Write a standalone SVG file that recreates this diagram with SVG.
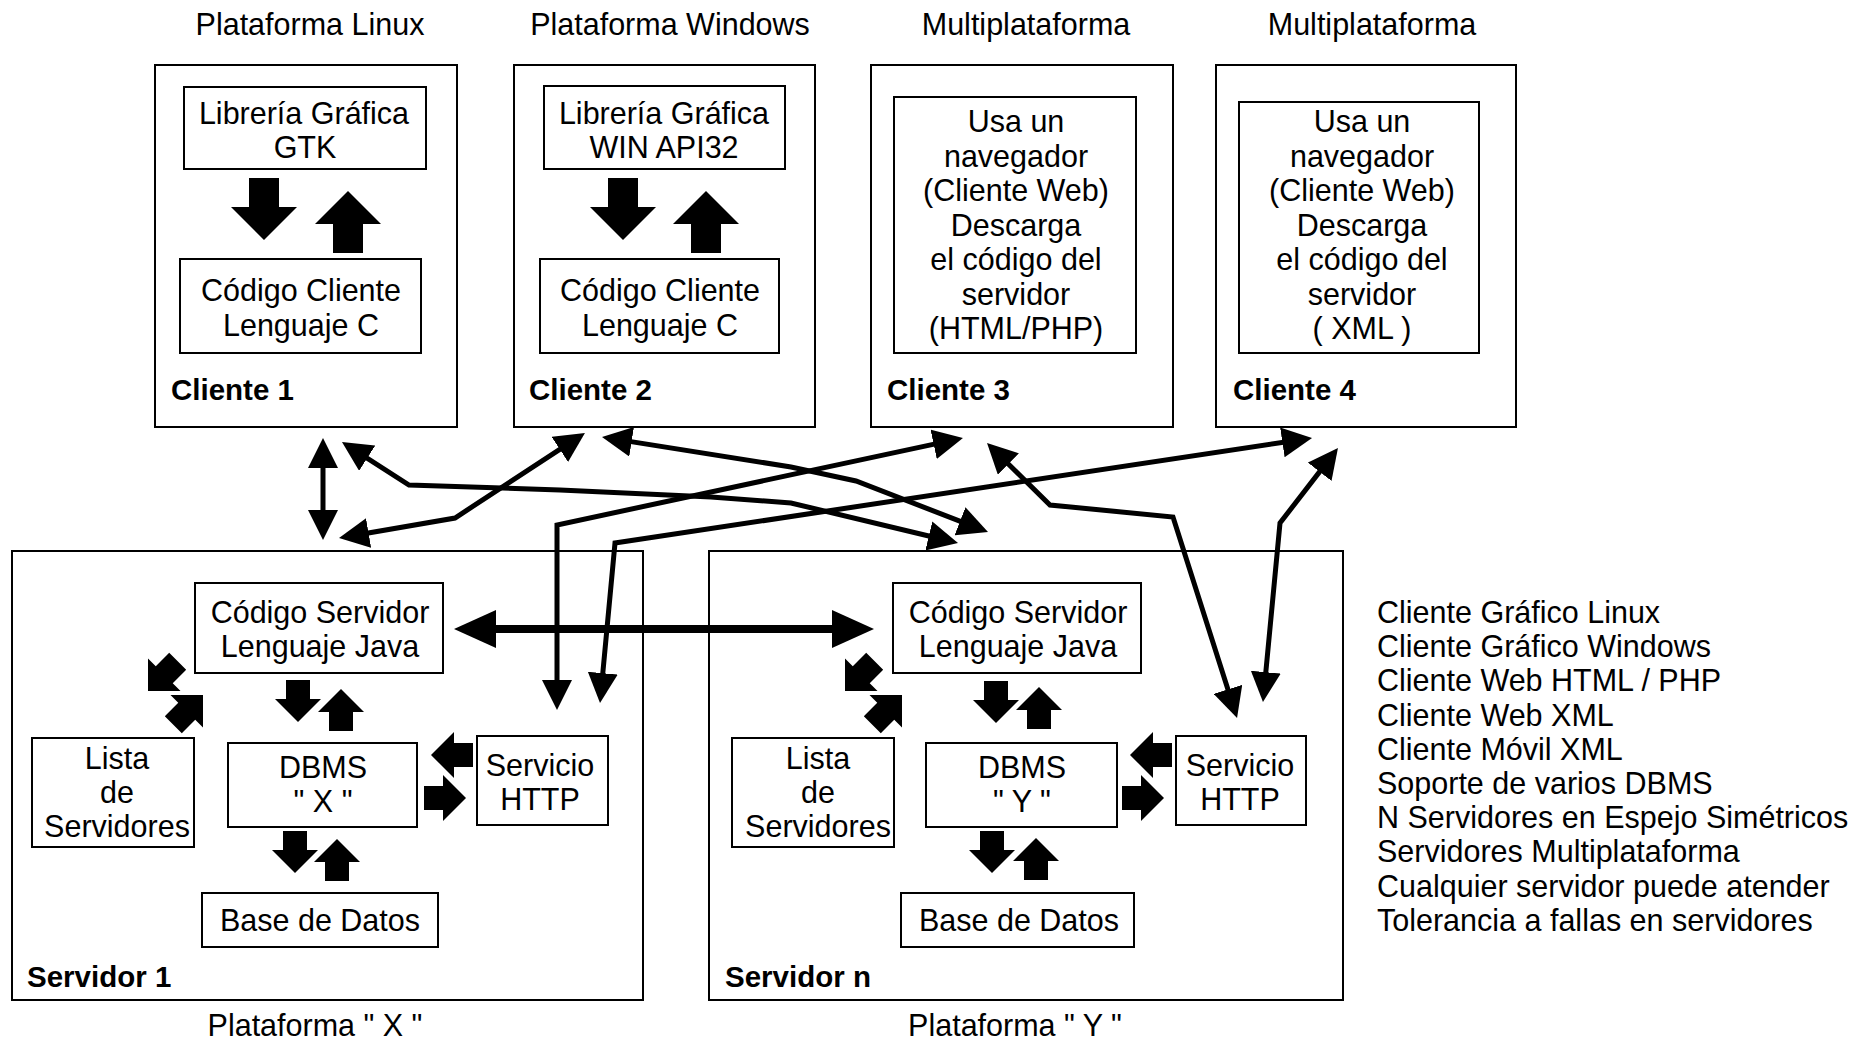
<svg xmlns="http://www.w3.org/2000/svg" width="1856" height="1041" viewBox="0 0 1856 1041">
<style>
  text { font-family: "Liberation Sans", Arial, sans-serif; font-size: 30.5px; fill: #000; }
  .c { text-anchor: middle; }
  .b { font-weight: bold; font-size: 29.5px; }
  .box { fill: none; stroke: #000; stroke-width: 2; }
  .blk { fill: #000; }
  .wire { fill: none; stroke: #000; stroke-width: 5; marker-start: url(#ah); marker-end: url(#ah); }
  .bus { fill: none; stroke: #000; stroke-width: 8; marker-start: url(#bh); marker-end: url(#bh); }
</style>
<defs>
  <marker id="ah" viewBox="0 -15 30 30" markerWidth="30" markerHeight="30" refX="15" refY="0" orient="auto-start-reverse" markerUnits="userSpaceOnUse">
    <path d="M0,-15 L30,0 L0,15 Z" fill="#000"/>
  </marker>
  <marker id="bh" viewBox="0 -19 42 38" markerWidth="42" markerHeight="38" refX="21" refY="0" orient="auto-start-reverse" markerUnits="userSpaceOnUse">
    <path d="M0,-19 L42,0 L0,19 Z" fill="#000"/>
  </marker>
  <!-- block arrows, tip at origin, pointing down -->
  <path id="cArrow" d="M-15,-62 L15,-62 L15,-33 L33,-33 L0,0 L-33,-33 L-15,-33 Z"/>
  <path id="sArrow" d="M-12,-42 L12,-42 L12,-23 L23,-23 L0,0 L-23,-23 L-12,-23 Z"/>
</defs>
<rect width="1856" height="1041" fill="#fff"/>

<!-- Clients -->
<g id="cliente1">
  <text class="c" x="310" y="35">Plataforma Linux</text>
  <rect class="box" x="155" y="65" width="302" height="362"/>
  <rect class="box" x="184" y="87" width="242" height="82"/>
  <text class="c" x="304" y="124">Librería Gráfica</text>
  <text class="c" x="305" y="158">GTK</text>
  <rect class="box" x="180" y="259" width="241" height="94"/>
  <text class="c" x="301" y="301">Código Cliente</text>
  <text class="c" x="301" y="336">Lenguaje C</text>
  <use href="#cArrow" class="blk" transform="translate(264,240)"/>
  <use href="#cArrow" class="blk" transform="translate(348,191) rotate(180)"/>
  <text class="b" x="171" y="400">Cliente 1</text>
</g>

<g id="cliente2">
  <text class="c" x="670" y="35">Plataforma Windows</text>
  <rect class="box" x="514" y="65" width="301" height="362"/>
  <rect class="box" x="544" y="86" width="241" height="83"/>
  <text class="c" x="664" y="124">Librería Gráfica</text>
  <text class="c" x="664" y="158">WIN API32</text>
  <rect class="box" x="540" y="259" width="239" height="94"/>
  <text class="c" x="660" y="301">Código Cliente</text>
  <text class="c" x="660" y="336">Lenguaje C</text>
  <use href="#cArrow" class="blk" transform="translate(623,240)"/>
  <use href="#cArrow" class="blk" transform="translate(706,191) rotate(180)"/>
  <text class="b" x="529" y="400">Cliente 2</text>
</g>

<g id="cliente3">
  <text class="c" x="1026" y="35">Multiplataforma</text>
  <rect class="box" x="871" y="65" width="302" height="362"/>
  <rect class="box" x="894" y="97" width="242" height="256"/>
  <text class="c" x="1016" y="132">Usa un</text>
  <text class="c" x="1016" y="166.5">navegador</text>
  <text class="c" x="1016" y="201">(Cliente Web)</text>
  <text class="c" x="1016" y="235.5">Descarga</text>
  <text class="c" x="1016" y="270">el código del</text>
  <text class="c" x="1016" y="304.5">servidor</text>
  <text class="c" x="1016" y="339">(HTML/PHP)</text>
  <text class="b" x="887" y="400">Cliente 3</text>
</g>

<g id="cliente4">
  <text class="c" x="1372" y="35">Multiplataforma</text>
  <rect class="box" x="1216" y="65" width="300" height="362"/>
  <rect class="box" x="1239" y="102" width="240" height="251"/>
  <text class="c" x="1362" y="132">Usa un</text>
  <text class="c" x="1362" y="166.5">navegador</text>
  <text class="c" x="1362" y="201">(Cliente Web)</text>
  <text class="c" x="1362" y="235.5">Descarga</text>
  <text class="c" x="1362" y="270">el código del</text>
  <text class="c" x="1362" y="304.5">servidor</text>
  <text class="c" x="1362" y="339">( XML )</text>
  <text class="b" x="1233" y="400">Cliente 4</text>
</g>

<!-- Servers -->
<g id="servidor1">
  <rect class="box" x="12" y="551" width="631" height="449"/>
  <rect class="box" x="195" y="583" width="248" height="90"/>
  <text class="c" x="320" y="623">Código Servidor</text>
  <text class="c" x="320" y="657">Lenguaje Java</text>
  <rect class="box" x="32" y="738" width="162" height="109"/>
  <text class="c" x="117" y="769">Lista</text>
  <text class="c" x="117" y="803">de</text>
  <text class="c" x="117" y="837">Servidores</text>
  <rect class="box" x="228" y="743" width="189" height="84"/>
  <text class="c" x="323" y="778">DBMS</text>
  <text class="c" x="323" y="812">" X "</text>
  <rect class="box" x="477" y="736" width="131" height="89"/>
  <text class="c" x="540" y="776">Servicio</text>
  <text class="c" x="540" y="810">HTTP</text>
  <rect class="box" x="202" y="893" width="236" height="54"/>
  <text class="c" x="320" y="931">Base de Datos</text>
  <use href="#sArrow" class="blk" transform="translate(298,722)"/>
  <use href="#sArrow" class="blk" transform="translate(341,689) rotate(180)"/>
  <use href="#sArrow" class="blk" transform="translate(295,873)"/>
  <use href="#sArrow" class="blk" transform="translate(337,839) rotate(180)"/>
  <use href="#sArrow" class="blk" transform="translate(431,755) rotate(90)"/>
  <use href="#sArrow" class="blk" transform="translate(466,798) rotate(-90)"/>
  <use href="#sArrow" class="blk" transform="translate(148,691) rotate(45)"/>
  <use href="#sArrow" class="blk" transform="translate(203,695) rotate(225)"/>
  <text class="b" x="27" y="987">Servidor 1</text>
  <text class="c" x="315" y="1036">Plataforma " X "</text>
</g>

<g id="servidorN">
  <rect class="box" x="709" y="551" width="634" height="449"/>
  <rect class="box" x="893" y="583" width="248" height="90"/>
  <text class="c" x="1018" y="623">Código Servidor</text>
  <text class="c" x="1018" y="657">Lenguaje Java</text>
  <rect class="box" x="732" y="738" width="162" height="109"/>
  <text class="c" x="818" y="769">Lista</text>
  <text class="c" x="818" y="803">de</text>
  <text class="c" x="818" y="837">Servidores</text>
  <rect class="box" x="926" y="743" width="191" height="84"/>
  <text class="c" x="1022" y="778">DBMS</text>
  <text class="c" x="1022" y="812">" Y "</text>
  <rect class="box" x="1176" y="736" width="130" height="89"/>
  <text class="c" x="1240" y="776">Servicio</text>
  <text class="c" x="1240" y="810">HTTP</text>
  <rect class="box" x="901" y="893" width="233" height="54"/>
  <text class="c" x="1019" y="931">Base de Datos</text>
  <use href="#sArrow" class="blk" transform="translate(996,723)"/>
  <use href="#sArrow" class="blk" transform="translate(1039,687) rotate(180)"/>
  <use href="#sArrow" class="blk" transform="translate(992,873)"/>
  <use href="#sArrow" class="blk" transform="translate(1036,838) rotate(180)"/>
  <use href="#sArrow" class="blk" transform="translate(1130,755) rotate(90)"/>
  <use href="#sArrow" class="blk" transform="translate(1164,798) rotate(-90)"/>
  <use href="#sArrow" class="blk" transform="translate(845,691) rotate(45)"/>
  <use href="#sArrow" class="blk" transform="translate(902,695) rotate(225)"/>
  <text class="b" x="725" y="987">Servidor n</text>
  <text class="c" x="1015" y="1036">Plataforma " Y "</text>
</g>

<!-- Feature list -->
<g id="caracteristicas">
  <text x="1377" y="623">Cliente Gráfico Linux</text>
  <text x="1377" y="657.2">Cliente Gráfico Windows</text>
  <text x="1377" y="691.4">Cliente Web HTML / PHP</text>
  <text x="1377" y="725.6">Cliente Web XML</text>
  <text x="1377" y="759.8">Cliente Móvil XML</text>
  <text x="1377" y="794">Soporte de varios DBMS</text>
  <text x="1377" y="828.2">N Servidores en Espejo Simétricos</text>
  <text x="1377" y="862.4">Servidores Multiplataforma</text>
  <text x="1377" y="896.6">Cualquier servidor puede atender</text>
  <text x="1377" y="930.8">Tolerancia a fallas en servidores</text>
</g>

<!-- Connectors between clients and servers -->
<g id="connectors">
  <path class="wire" d="M323,453 L323,525"/>
  <path class="wire" d="M353.8,535.5 L455,518 L572.4,441.2"/>
  <path class="wire" d="M354.6,450.1 L409,485 L560,490 L711,497 L791,503 L943.4,539.5"/>
  <path class="wire" d="M616.8,439.4 L791,467 L856,481 L974,526.6"/>
  <path class="wire" d="M557,695 L557,525 L948.3,441.1"/>
  <path class="wire" d="M601.4,688.1 L615,543 L1297.2,440.2"/>
  <path class="wire" d="M997.7,453.5 L1050,505 L1173,517 L1232.5,703.7"/>
  <path class="wire" d="M1328.8,459.9 L1280,523 L1264.4,687.1"/>
  <path class="bus" d="M475,629 L853,629"/>
</g>
</svg>
